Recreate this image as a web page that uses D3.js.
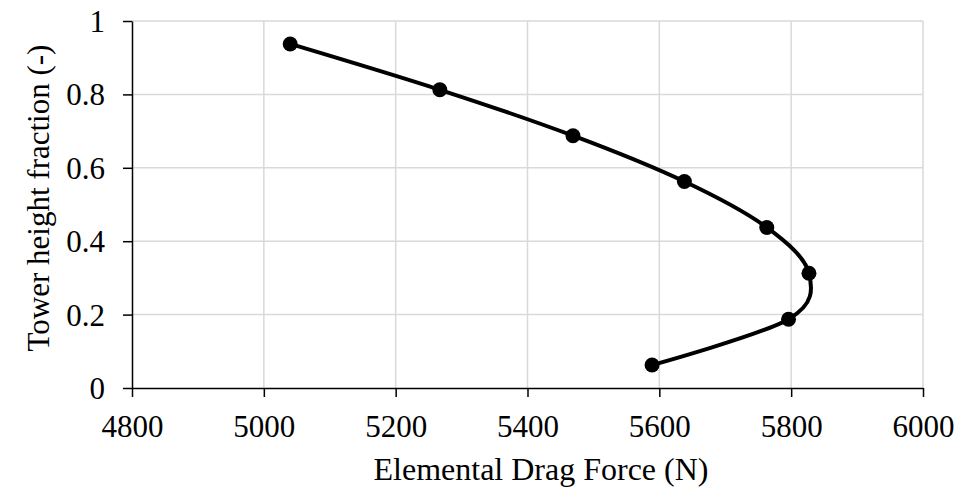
<!DOCTYPE html>
<html lang="en">
<head>
    <meta charset="UTF-8">
    <title>Elemental Drag Force</title>
    <script src="https://d3js.org/d3.v7.min.js"></script>
    <style>
        body { margin: 0; background: #fff; }
        text { font-family: "Liberation Serif", "Times New Roman", serif; fill: #000; }
        .grid line { stroke: #d9d9d9; stroke-width: 1.5; }
    </style>
</head>
<body>
    <svg id="chart"></svg>
    <script>
        // values
        const heightFraction = [0.0625, 0.1875, 0.3125, 0.4375, 0.5625, 0.6875, 0.8125, 0.9375];
        const dragForce = [5589, 5796, 5827, 5763, 5638, 5469, 5267, 5040];
        const xTicks = [4800, 5000, 5200, 5400, 5600, 5800, 6000];
        const yTicks = [0, 0.2, 0.4, 0.6, 0.8, 1];

        const width = 977, height = 489;
        const plotLeft = 132, plotRight = 923, plotTop = 21, plotBottom = 388;

        const x = d3.scaleLinear().domain([4800, 6000]).range([plotLeft, plotRight]);
        const y = d3.scaleLinear().domain([0, 1]).range([plotBottom, plotTop]);

        const svg = d3.select("#chart")
            .attr("width", width)
            .attr("height", height);

        // grid
        const grid = svg.append("g").attr("class", "grid");
        grid.selectAll(".v").data(xTicks.slice(1)).join("line")
            .attr("class", "v")
            .attr("x1", d => x(d)).attr("x2", d => x(d))
            .attr("y1", plotTop).attr("y2", plotBottom);
        grid.selectAll(".h").data(yTicks.slice(1)).join("line")
            .attr("class", "h")
            .attr("x1", plotLeft).attr("x2", plotRight)
            .attr("y1", d => y(d)).attr("y2", d => y(d));

        // axes
        const xAxis = svg.append("g")
            .attr("transform", `translate(0,${plotBottom})`)
            .call(d3.axisBottom(x).tickValues(xTicks).tickFormat(d3.format("d")).tickSize(9).tickSizeOuter(0));
        const yAxis = svg.append("g")
            .attr("transform", `translate(${plotLeft},0)`)
            .call(d3.axisLeft(y).tickValues(yTicks).tickFormat(d3.format("~g")).tickSize(9).tickSizeOuter(0));

        [xAxis, yAxis].forEach(a => {
            a.attr("font-family", null).attr("font-size", null);
            a.select(".domain").attr("stroke", "#000").attr("stroke-width", 1.5);
            a.selectAll(".tick line").attr("stroke", "#000").attr("stroke-width", 1.5);
            a.selectAll("text").attr("font-size", 31).attr("fill", "#000");
        });
        xAxis.selectAll("text").attr("y", 49).attr("dy", 0);
        yAxis.selectAll("text").attr("x", -27).attr("dy", "0.34em");

        // axis titles
        svg.append("text")
            .attr("x", 541).attr("y", 480)
            .attr("text-anchor", "middle")
            .attr("font-size", 32)
            .text("Elemental Drag Force (N)");
        svg.append("text")
            .attr("transform", "translate(49,198) rotate(-90)")
            .attr("text-anchor", "middle")
            .attr("font-size", 31)
            .text("Tower height fraction (-)");

        // series
        const points = dragForce.map((d, i) => [d, heightFraction[i]]);
        const line = d3.line()
            .x(d => x(d[0]))
            .y(d => y(d[1]))
            .curve(d3.curveCatmullRom.alpha(0));

        svg.append("path")
            .datum(points)
            .attr("fill", "none")
            .attr("stroke", "#000")
            .attr("stroke-width", 4)
            .attr("d", line);

        svg.selectAll(".dot").data(points).join("circle")
            .attr("class", "dot")
            .attr("cx", d => x(d[0]))
            .attr("cy", d => y(d[1]))
            .attr("r", 7.5)
            .attr("fill", "#000");
    </script>
</body>
</html>
